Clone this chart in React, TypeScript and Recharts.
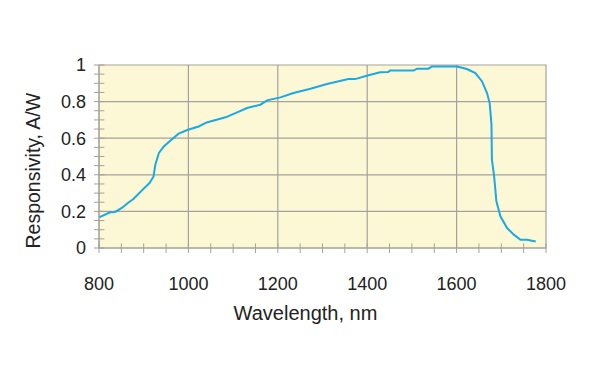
import { LineChart, Line, XAxis, YAxis, ReferenceArea, ReferenceLine } from "recharts";

const wavelengths = [
  800, 825, 836, 851, 866, 877, 896, 913, 922, 926, 934, 945, 960, 978, 999,
  1023, 1041, 1083, 1109, 1131, 1161, 1176, 1206, 1235, 1273, 1310, 1358, 1373,
  1401, 1429, 1447, 1451, 1504, 1511, 1537, 1545, 1601, 1623, 1642, 1657, 1668,
  1674, 1678, 1679, 1684, 1689, 1698, 1713, 1728, 1743, 1758, 1777,
];
const responsivity = [
  0.167, 0.195, 0.197, 0.219, 0.249, 0.268, 0.315, 0.355, 0.391, 0.455, 0.519, 0.555, 0.588, 0.625, 0.646,
  0.664, 0.686, 0.714, 0.741, 0.765, 0.783, 0.807, 0.823, 0.847, 0.87, 0.896, 0.923, 0.923,
  0.943, 0.96, 0.962, 0.97, 0.97, 0.98, 0.98, 0.992, 0.992, 0.978, 0.956, 0.91, 0.847,
  0.792, 0.674, 0.483, 0.391, 0.255, 0.173, 0.109, 0.073, 0.045, 0.045, 0.036,
];

const xTicks = [800, 850, 900, 950, 1000, 1050, 1100, 1150, 1200, 1250, 1300, 1350, 1400, 1450, 1500, 1550, 1600, 1650, 1700, 1750, 1800];
const xMajor = [800, 1000, 1200, 1400, 1600, 1800];
const yTicks = [0, 0.05, 0.1, 0.15, 0.2, 0.25, 0.3, 0.35, 0.4, 0.45, 0.5, 0.55, 0.6, 0.65, 0.7, 0.75, 0.8, 0.85, 0.9, 0.95, 1];
const yMajor = [0, 0.2, 0.4, 0.6, 0.8, 1];

const data = wavelengths.map((w, i) => ({ w, r: responsivity[i] }));

const font = "'Liberation Sans', Arial, sans-serif";
const gridColor = "#a4a29a";

const isMajor = (list: number[], v: number) => list.some((m) => Math.abs(m - v) < 1e-6);

export default function App() {
  return (
    <div style={{ position: "absolute", left: 0, top: 0, width: 600, height: 365, background: "#fff" }}>
      <LineChart width={600} height={365} data={data} margin={{ top: 65, right: 54, bottom: 37, left: 0 }}>
        <ReferenceArea x1={800} x2={1800} y1={0} y2={1} fill="#fcf8d6" fillOpacity={1} stroke={gridColor} strokeWidth={1.2} />
        {xMajor.slice(1, -1).map((v) => (
          <ReferenceLine key={`gx-${v}`} x={v} stroke={gridColor} strokeWidth={1.2} />
        ))}
        {yMajor.slice(1, -1).map((v) => (
          <ReferenceLine key={`gy-${v}`} y={v} stroke={gridColor} strokeWidth={1.2} />
        ))}
        {xTicks.map((v) => (
          <ReferenceLine key={`tx-${v}`} segment={[{ x: v, y: 0 }, { x: v, y: 0.025 }]} stroke={gridColor} />
        ))}
        {yTicks.map((v) => (
          <ReferenceLine key={`ty-${v}`} segment={[{ x: 800, y: v }, { x: 812, y: v }]} stroke={gridColor} />
        ))}
        <XAxis
          dataKey="w"
          type="number"
          domain={[800, 1800]}
          ticks={xTicks}
          interval={0}
          height={80}
          axisLine={{ stroke: gridColor }}
          tickLine={{ stroke: gridColor }}
          tickSize={5}
          tickMargin={24}
          tickFormatter={(v: number) => (isMajor(xMajor, v) ? String(v) : "")}
          tick={{ fill: "#222", fontSize: 18, fontFamily: font }}
          label={{ value: "Wavelength, nm", position: "insideBottom", offset: 8, dx: -17, fill: "#222", fontSize: 20, fontFamily: font }}
        />
        <YAxis
          type="number"
          domain={[0, 1]}
          ticks={yTicks}
          interval={0}
          width={99}
          axisLine={{ stroke: gridColor }}
          tickLine={{ stroke: gridColor }}
          tickSize={5}
          tickMargin={8}
          tickFormatter={(v: number) => (isMajor(yMajor, v) ? String(Math.round(v * 10) / 10) : "")}
          tick={{ fill: "#222", fontSize: 18, fontFamily: font }}
          label={{ value: "Responsivity, A/W", angle: -90, position: "insideLeft", offset: 33, dy: 92, fill: "#222", fontSize: 19.5, fontFamily: font }}
        />
        <Line type="linear" dataKey="r" stroke="#1aa9e2" strokeWidth={2} dot={false} isAnimationActive={false} />
      </LineChart>
    </div>
  );
}
